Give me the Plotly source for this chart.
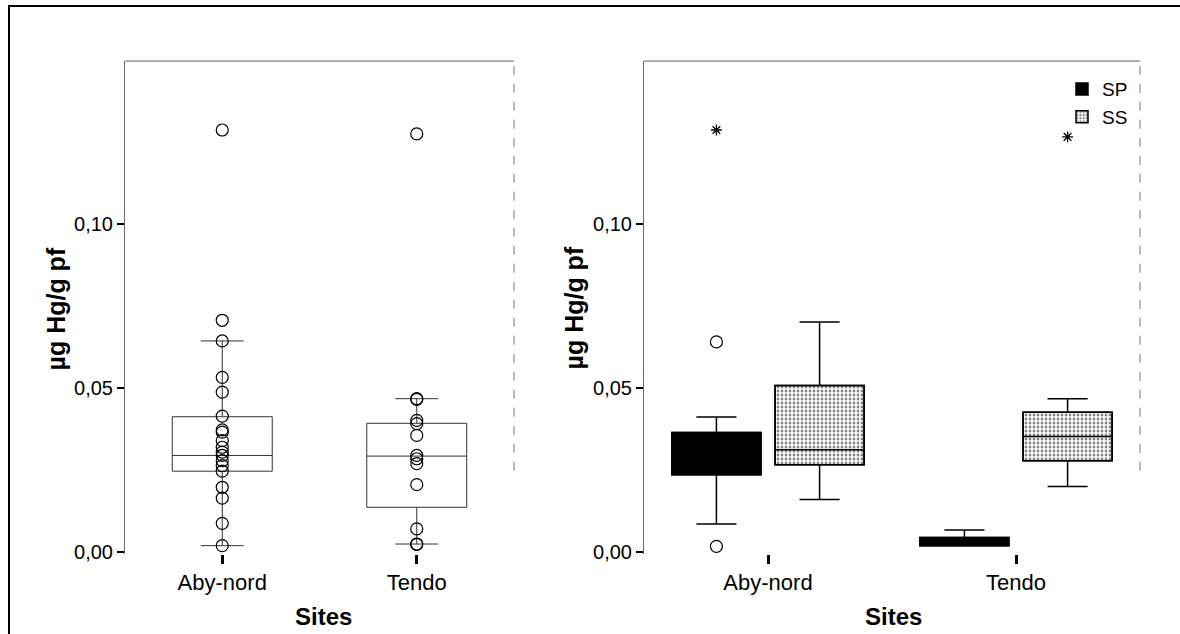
import plotly.graph_objects as go

sites = ["Aby-nord", "Tendo"]

# left panel: every sample per site (µg Hg/g pf)
aby_values = [0.1287, 0.0707, 0.0644, 0.0533, 0.0488, 0.0415, 0.0373, 0.0366, 0.0340,
              0.0320, 0.0305, 0.0295, 0.0279, 0.0264, 0.0247, 0.0198, 0.0165, 0.0088, 0.0020]
tendo_values = [0.1275, 0.0468, 0.0466, 0.0402, 0.0392, 0.0356, 0.0295, 0.0285, 0.0270,
                0.0206, 0.0071, 0.0025, 0.0024]

# left panel box statistics
all_q1 = [0.0247, 0.0137]
all_med = [0.0295, 0.0293]
all_q3 = [0.0413, 0.0393]
all_lo = [0.0020, 0.0025]
all_hi = [0.0644, 0.0468]

# right panel: SP / SS box statistics
sp_q1 = [0.0236, 0.0020]
sp_med = [0.0300, 0.0032]
sp_q3 = [0.0365, 0.0045]
sp_lo = [0.0086, 0.0020]
sp_hi = [0.0412, 0.0068]

ss_q1 = [0.0267, 0.0279]
ss_med = [0.0312, 0.0353]
ss_q3 = [0.0508, 0.0427]
ss_lo = [0.0161, 0.0200]
ss_hi = [0.0702, 0.0468]

# outliers (site, value)
sp_out_sites = ["Aby-nord", "Aby-nord"]
sp_out_vals = [0.0641, 0.0018]
sp_ext_sites = ["Aby-nord"]
sp_ext_vals = [0.1287]
ss_ext_sites = ["Tendo"]
ss_ext_vals = [0.1266]

FONT = "Liberation Sans"
idx = {s: i for i, s in enumerate(sites)}
pos = list(range(len(sites)))
off = 0.208     # group offset inside a category
bw = 0.359      # box width (right panel)

fig = go.Figure()

# ---- left panel
fig.add_trace(go.Box(x=pos, q1=all_q1, median=all_med, q3=all_q3,
                     lowerfence=all_lo, upperfence=all_hi, orientation="v",
                     width=0.514, whiskerwidth=0.43, boxpoints=False,
                     fillcolor="rgba(0,0,0,0)", line=dict(color="#333", width=1),
                     showlegend=False, xaxis="x", yaxis="y"))
for i, vals in enumerate([aby_values, tendo_values]):
    fig.add_trace(go.Scatter(x=[i] * len(vals), y=vals, mode="markers",
                             marker=dict(symbol="circle-open", size=12, color="black",
                                         line=dict(width=1.2)),
                             showlegend=False, xaxis="x", yaxis="y"))

# ---- right panel: fills as bars (pattern for SS), outlines as boxes
sp_x = [p - off for p in pos]
ss_x = [p + off for p in pos]
fig.add_trace(go.Bar(x=sp_x, y=[b - a for a, b in zip(sp_q1, sp_q3)], base=sp_q1, width=bw,
                     marker=dict(color="black", line=dict(color="black", width=1.5)),
                     name="SP", xaxis="x2", yaxis="y2"))
fig.add_trace(go.Bar(x=ss_x, y=[b - a for a, b in zip(ss_q1, ss_q3)], base=ss_q1, width=bw,
                     marker=dict(color="white", line=dict(color="black", width=1.5),
                                 pattern=dict(shape=".", size=4, solidity=0.38,
                                              fgcolor="black", bgcolor="white")),
                     name="SS", xaxis="x2", yaxis="y2"))
fig.add_trace(go.Box(x=sp_x, q1=sp_q1, median=sp_med, q3=sp_q3,
                     lowerfence=sp_lo, upperfence=sp_hi, orientation="v",
                     width=bw, whiskerwidth=0.45, boxpoints=False,
                     fillcolor="black", line=dict(color="black", width=1.5),
                     showlegend=False, xaxis="x2", yaxis="y2"))
fig.add_trace(go.Box(x=ss_x, q1=ss_q1, median=ss_med, q3=ss_q3,
                     lowerfence=ss_lo, upperfence=ss_hi, orientation="v",
                     width=bw, whiskerwidth=0.45, boxpoints=False,
                     fillcolor="rgba(0,0,0,0)", line=dict(color="black", width=1.5),
                     showlegend=False, xaxis="x2", yaxis="y2"))
fig.add_trace(go.Scatter(x=[idx[s] - off for s in sp_out_sites], y=sp_out_vals, mode="markers",
                         marker=dict(symbol="circle-open", size=12, color="black",
                                     line=dict(width=1.2)),
                         showlegend=False, xaxis="x2", yaxis="y2"))
fig.add_trace(go.Scatter(x=[idx[s] - off for s in sp_ext_sites] + [idx[s] + off for s in ss_ext_sites],
                         y=sp_ext_vals + ss_ext_vals, mode="markers",
                         marker=dict(symbol="asterisk-open", size=9, color="black",
                                     line=dict(width=1.3, color="black")),
                         showlegend=False, xaxis="x2", yaxis="y2"))

# layout is designed in 1180x634 reference pixels (RH); the captured page area is a bit taller
W, RH = 1180, 634
H = 644
ydom = [1 - 553 / RH, 1 - 61 / RH]
yr = [-0.0005, 0.1497]

xcommon = dict(range=[-0.5, 1.5], tickvals=pos, ticktext=sites, showgrid=False,
               zeroline=False, showline=False, ticks="outside", ticklen=9, tickwidth=3,
               tickcolor="black", tickfont=dict(family=FONT, size=22, color="black"))
ycommon = dict(range=yr, domain=ydom, tickvals=[0, 0.05, 0.10], tickformat=".2f",
               showgrid=False, zeroline=False, showline=True, linecolor="#666", linewidth=1,
               ticks="outside", ticklen=7, tickwidth=2, tickcolor="black",
               tickfont=dict(family=FONT, size=20, color="black"))

fig.update_layout(
    width=W, height=H, autosize=False, margin=dict(l=0, r=0, t=0, b=0),
    paper_bgcolor="white", plot_bgcolor="white",
    separators=", ", barmode="overlay", boxmode="overlay",
    xaxis=dict(domain=[125 / W, 514 / W], anchor="y", **xcommon),
    yaxis=dict(anchor="x", **ycommon),
    xaxis2=dict(domain=[644 / W, 1140 / W], anchor="y2", **xcommon),
    yaxis2=dict(anchor="x2", **ycommon),
    legend=dict(x=1062 / W, y=1 - 70 / RH, xanchor="left", yanchor="top",
                bgcolor="rgba(0,0,0,0)", font=dict(family=FONT, size=19, color="black"),
                itemwidth=30, tracegroupgap=2),
    font=dict(family=FONT, color="black"),
)

# axis titles
for xc, yc in [(56, 309), (574, 308)]:
    fig.add_annotation(text="<b>µg Hg/g pf</b>", x=xc / W, y=1 - yc / RH, xref="paper", yref="paper",
                       xanchor="center", yanchor="middle", textangle=-90, showarrow=False,
                       font=dict(family=FONT, size=25, color="black"))
for xc in [323, 893]:
    fig.add_annotation(text="<b>Sites</b>", x=xc / W, y=1 - 616 / RH, xref="paper", yref="paper",
                       xanchor="center", yanchor="middle", showarrow=False,
                       font=dict(family=FONT, size=24, color="black"))

# panel frames (top + dashed right), outer page frame
for xa in ["x", "x2"]:
    fig.add_shape(type="line", xref=f"{xa} domain", yref="paper", x0=0, x1=1,
                  y0=ydom[1], y1=ydom[1], line=dict(color="#666", width=1))
    fig.add_shape(type="line", xref=f"{xa} domain", yref="paper", x0=1, x1=1,
                  y0=1 - 470 / RH, y1=ydom[1], line=dict(color="#777", width=1, dash="dash"))
fig.add_shape(type="path", xref="paper", yref="paper",
              path=f"M {9 / W},0 L {9 / W},{1 - 6 / RH} L 1,{1 - 6 / RH}",
              line=dict(color="black", width=2))

# drop the default page margin so the figure sits at the window origin
fig.write_html("out.html", config={"responsive": False, "displayModeBar": False},
               post_script="document.body.style.margin='0';")
